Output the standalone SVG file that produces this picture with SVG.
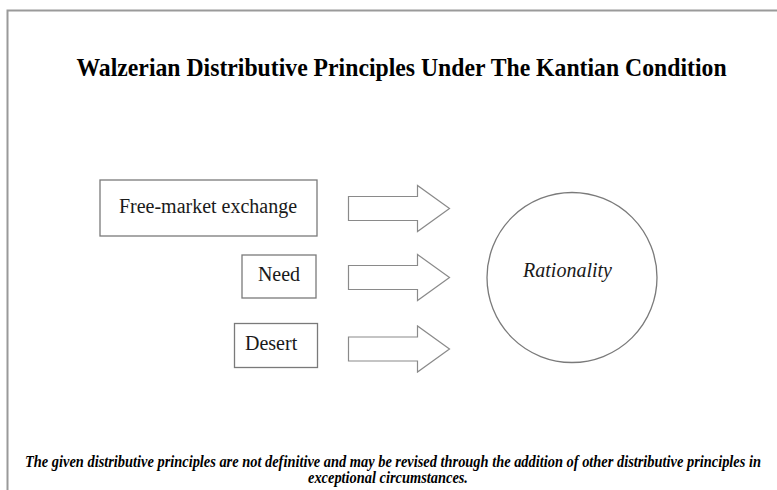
<svg xmlns="http://www.w3.org/2000/svg" width="777" height="490" viewBox="0 0 777 490">
  <style>
    .frame { fill: none; stroke: #9a9a9a; stroke-width: 2; }
    .box { fill: #ffffff; stroke: #7a7a7a; stroke-width: 1.3; }
    .arrow { fill: #ffffff; stroke: #8a8a8a; stroke-width: 1.2; stroke-linejoin: miter; }
    text { font-family: "Liberation Serif", "Nimbus Roman", "Times New Roman", Times, "Noto Serif", "DejaVu Serif", serif; }
    .label { font-size: 20px; fill: #1a1a1a; }
    .title { font-size: 26px; font-weight: bold; fill: #000000; }
    .note { font-size: 16px; font-weight: bold; font-style: italic; fill: #000000; }
  </style>
  <defs>
    <!-- block arrow pointing right, origin at the middle of its tail -->
    <polygon id="blockArrow" points="0,-12 69,-12 69,-23 101,0 69,23 69,12 0,12"/>
  </defs>

  <rect width="777" height="490" fill="#ffffff"/>

  <!-- page frame: top and left rules only -->
  <path class="frame" d="M7.5,490 V10.5 H777"/>

  <!-- heading, set slightly condensed -->
  <g transform="translate(401.5,76) scale(0.913,1)">
    <text class="title" x="0" y="0" text-anchor="middle">Walzerian Distributive Principles Under The Kantian Condition</text>
  </g>

  <g id="free-market">
    <rect class="box" x="100" y="180" width="217" height="56"/>
    <text class="label" x="208" y="213" text-anchor="middle">Free-market exchange</text>
  </g>

  <g id="need">
    <rect class="box" x="242" y="255" width="74" height="43"/>
    <text class="label" x="279" y="281" text-anchor="middle">Need</text>
  </g>

  <g id="desert">
    <rect class="box" x="234.5" y="323.5" width="83" height="44"/>
    <text class="label" x="245" y="350">Desert</text>
  </g>

  <g id="rationality">
    <circle class="box" cx="572" cy="277.5" r="85"/>
    <text class="label" x="567.5" y="277" text-anchor="middle" font-style="italic">Rationality</text>
  </g>

  <g id="connectors">
    <use href="#blockArrow" class="arrow" x="348.5" y="208.5"/>
    <use href="#blockArrow" class="arrow" x="348.5" y="277.5"/>
    <use href="#blockArrow" class="arrow" x="348.5" y="349"/>
  </g>

  <!-- footnote, set condensed -->
  <g transform="translate(393,466.5) scale(0.9,1)">
    <text class="note" x="0" y="0" text-anchor="middle">The given distributive principles are not definitive and may be revised through the addition of other distributive principles in</text>
  </g>
  <g transform="translate(388,483) scale(0.9,1)">
    <text class="note" x="0" y="0" text-anchor="middle">exceptional circumstances.</text>
  </g>
</svg>
